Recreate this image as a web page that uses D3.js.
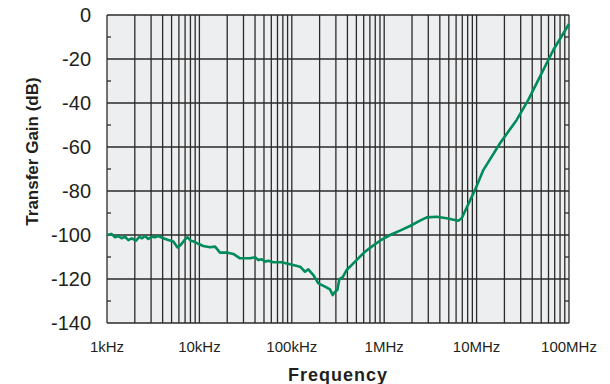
<!DOCTYPE html>
<meta charset="utf-8">
<style>
  body { margin: 0; background: #fff; }
  text { font-family: "Liberation Sans", Arial, sans-serif; fill: #231f20; }
</style>
<svg width="610" height="384"></svg>
<script src="https://d3js.org/d3.v7.min.js"></script>
<script>
// measured curve, frequency in kHz and gain in dB
var freqKHz = [1.00, 1.12, 1.22, 1.33, 1.44, 1.57, 1.70, 1.85, 2.06, 2.24, 2.37, 2.58, 2.80, 3.05, 3.31, 3.59,
  4.07, 4.61, 5.22, 5.77, 6.28, 6.81, 7.40, 8.05, 8.74, 9.73, 11.0, 13.0, 14.8, 16.7, 19.8, 23.3, 27.5,
  35.3, 40.0, 43.4, 47.2, 51.3, 55.7, 63.1, 77.7, 95.6, 123, 139, 151, 171, 194, 229, 259, 277, 294,
  311, 327, 356, 393, 463, 524, 620, 732, 901, 1156, 1483, 1902, 2440, 2884, 3700, 4747, 6339, 6900,
  9610, 11820, 17920, 27170, 36260, 44710, 67640, 100000];
var gainDb = [-100, -99.5, -101, -100.5, -101.5, -100.8, -102.3, -101.5, -102.6, -100.8, -101.5, -100.5, -101.8, -100.8, -101, -100.5,
  -101.5, -102.3, -103, -105.6, -104.5, -102.6, -101, -102.6, -103, -104, -105, -105.6, -105.3, -108, -108, -108.6, -110.6,
  -110.6, -110.1, -111.4, -111, -112.1, -111.7, -112.4, -112.4, -113.3, -114.4, -116.7, -115.6, -118.2, -122, -123.5, -124.7, -127.3, -125.8,
  -125, -120.1, -119.2, -115.9, -112.9, -110.6, -107.6, -105.3, -102.6, -100, -98, -95.9, -93.5, -92, -91.7, -92.4, -93.5, -92.4,
  -79.5, -70.5, -58.3, -47.7, -38.6, -31, -15.9, -4.1];

var xTickValues = [1, 10, 100, 1000, 10000, 100000];
var xTickLabels = ["1kHz", "10kHz", "100kHz", "1MHz", "10MHz", "100MHz"];
var yTickValues = [0, -20, -40, -60, -80, -100, -120, -140];
var yMinorValues = [-10, -30, -50, -70, -90, -110, -130];

var svg = d3.select("svg");
var plotL = 107, plotR = 569, plotT = 15, plotB = 323;

var x = d3.scaleLog().domain([1, 100000]).range([plotL, plotR]);
var y = d3.scaleLinear().domain([-140, 0]).range([plotB, plotT]);

//plot background
svg.append("rect")
  .attr("x", plotL).attr("y", plotT)
  .attr("width", plotR - plotL).attr("height", plotB - plotT)
  .attr("fill", "#eceef0");

//vertical grid: 1..9 of each decade
var vGrid = [];
for (var dec = 1; dec < 100000; dec *= 10) {
  for (var k = 1; k < 10; k++) vGrid.push(dec * k);
}
vGrid.push(100000);

var grid = svg.append("g").attr("stroke", "#2b2a2a").attr("stroke-width", 1.3);
grid.selectAll(".v").data(vGrid).enter().append("line")
  .attr("x1", function(d) { return x(d); }).attr("x2", function(d) { return x(d); })
  .attr("y1", plotT).attr("y2", plotB);
grid.selectAll(".h").data(yTickValues).enter().append("line")
  .attr("x1", plotL).attr("x2", plotR)
  .attr("y1", function(d) { return y(d); }).attr("y2", function(d) { return y(d); });

//minor ticks on both sides, pointing in
grid.selectAll(".ml").data(yMinorValues).enter().append("line")
  .attr("x1", plotL).attr("x2", plotL + 4)
  .attr("y1", function(d) { return y(d); }).attr("y2", function(d) { return y(d); });
grid.selectAll(".mr").data(yMinorValues).enter().append("line")
  .attr("x1", plotR - 4).attr("x2", plotR)
  .attr("y1", function(d) { return y(d); }).attr("y2", function(d) { return y(d); });

//y tick labels
svg.append("g").selectAll("text").data(yTickValues).enter().append("text")
  .attr("x", 91).attr("y", function(d) { return y(d) + 7; })
  .attr("text-anchor", "end")
  .style("font-size", "20px")
  .text(function(d) { return d; });

//x tick labels
svg.append("g").selectAll("text").data(xTickValues).enter().append("text")
  .attr("x", function(d) { return x(d); }).attr("y", 352)
  .attr("text-anchor", "middle")
  .style("font-size", "15px")
  .text(function(d, i) { return xTickLabels[i]; });

//axis titles
svg.append("text")
  .attr("x", 338).attr("y", 381)
  .attr("text-anchor", "middle")
  .style("font-size", "18px").style("font-weight", "bold").style("letter-spacing", "1px")
  .text("Frequency");

svg.append("text")
  .attr("transform", "translate(37.5,151.5) rotate(-90)")
  .attr("text-anchor", "middle")
  .style("font-size", "17px").style("font-weight", "bold")
  .text("Transfer Gain (dB)");

//the curve
var pts = freqKHz.map(function(f, i) { return [f, gainDb[i]]; });
svg.append("path")
  .datum(pts)
  .attr("fill", "none")
  .attr("stroke", "#008c5a")
  .attr("stroke-width", 2.6)
  .attr("stroke-linejoin", "round")
  .attr("d", d3.line().x(function(d) { return x(d[0]); }).y(function(d) { return y(d[1]); }));
</script>
